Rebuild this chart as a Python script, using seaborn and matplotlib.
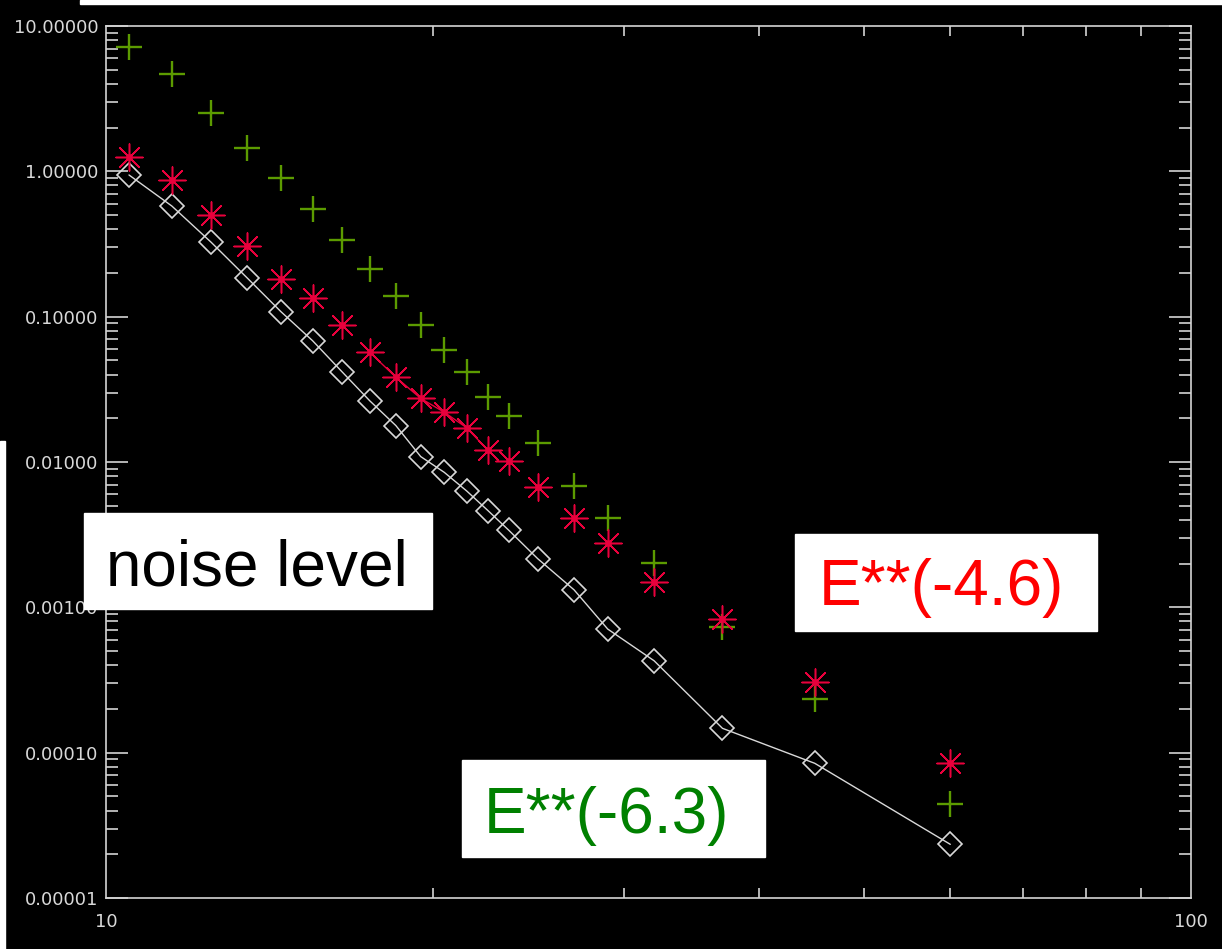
import matplotlib
matplotlib.use("Agg")
import matplotlib.pyplot as plt
import seaborn as sns
from matplotlib.patches import Rectangle
from matplotlib.ticker import FixedLocator, FixedFormatter, NullFormatter

# ---------------- data ----------------
energy = [10.5, 11.5, 12.5, 13.5, 14.5, 15.5, 16.5, 17.5, 18.5, 19.5, 20.5,
          21.5, 22.5, 23.5, 25, 27, 29, 32, 37, 45, 60]
spectrum_green = [7.13, 4.68, 2.53, 1.45, 0.895, 0.548, 0.337, 0.212, 0.139,
                  0.0872, 0.0590, 0.0418, 0.0281, 0.0207, 0.0136, 0.00689,
                  0.00410, 0.00203, 0.000736, 0.000233, 4.43e-5]
spectrum_red = [1.25, 0.872, 0.501, 0.308, 0.182, 0.134, 0.0876, 0.0569,
                0.0383, 0.0274, 0.0220, 0.0172, 0.0120, 0.0102, 0.00670,
                0.00410, 0.00276, 0.00149, 0.000835, 0.000305, 8.45e-5]
red_line_energy = [17.5, 18.5, 19.5, 20.5, 21.5, 22.5]
red_line_values = [0.0569, 0.0383, 0.0274, 0.0220, 0.0172, 0.0120]
noise_level = [0.944, 0.577, 0.325, 0.184, 0.108, 0.0684, 0.0418, 0.0264,
               0.0178, 0.0109, 0.00849, 0.00632, 0.00462, 0.00340, 0.00216,
               0.00132, 0.000709, 0.000429, 0.000147, 8.45e-5, 2.34e-5]

y_ticks = [1e-5, 1e-4, 1e-3, 1e-2, 1e-1, 1, 10]
y_tick_labels = ["0.00001", "0.00010", "0.00100", "0.01000", "0.10000",
                 "1.00000", "10.00000"]
x_ticks = [10, 100]
x_tick_labels = ["10", "100"]
x_minor = [20, 30, 40, 50, 60, 70, 80, 90]

annotations = ["noise level", "E**(-4.6)", "E**(-6.3)"]

# ---------------- style ----------------
sns.set_style("dark")
plt.rcParams["font.family"] = ["DejaVu Sans"]

W, H = 1222, 949
fig = plt.figure(figsize=(W / 100, H / 100), dpi=100, facecolor="black")

def fx(px):
    return px / W

def fy(py):
    return 1 - py / H

ax = fig.add_axes([fx(106), fy(898), fx(1191) - fx(106), fy(26) - fy(898)])
ax.set_facecolor("black")
ax.set_xscale("log")
ax.set_yscale("log")
ax.set_xlim(10, 100)
ax.set_ylim(1e-5, 10)
ax.grid(False)

axis_col = "#d4d4d4"
green = "#5c9b00"
red = "#e8003c"

# noise level: white diamonds joined by a thin line
sns.lineplot(x=energy, y=noise_level, ax=ax, color="#d9d9d9", lw=1.0,
             marker="D", markersize=12.5, markerfacecolor="none",
             markeredgecolor="#d9d9d9", markeredgewidth=1.2,
             estimator=None, sort=False, zorder=3)

# thin red connecting line between some asterisks
sns.lineplot(x=red_line_energy, y=red_line_values, ax=ax, color=red, lw=1.0,
             estimator=None, sort=False, zorder=3)

# green plus
sns.scatterplot(x=energy, y=spectrum_green, ax=ax, marker="+", s=19 ** 2,
                color=green, linewidth=1.7, zorder=4)

# red asterisks with a centre dot
sns.scatterplot(x=energy, y=spectrum_red, ax=ax, marker=(8, 2, 0), s=19.5 ** 2,
                color=red, linewidth=1.1, zorder=5)
sns.scatterplot(x=energy, y=spectrum_red, ax=ax, marker="o", s=24,
                color=red, linewidth=0, zorder=6)

# ---------------- axes, ticks ----------------
for sp in ax.spines.values():
    sp.set_visible(True)
    sp.set_color(axis_col)
    sp.set_linewidth(1.2)

ax.yaxis.set_major_locator(FixedLocator(y_ticks))
ax.yaxis.set_major_formatter(FixedFormatter(y_tick_labels))
ax.xaxis.set_major_locator(FixedLocator(x_ticks))
ax.xaxis.set_major_formatter(FixedFormatter(x_tick_labels))
ax.xaxis.set_minor_locator(FixedLocator(x_minor))
ax.xaxis.set_minor_formatter(NullFormatter())
y_minor = [m * 10.0 ** e for e in range(-5, 1) for m in range(2, 10)]
ax.yaxis.set_minor_locator(FixedLocator(y_minor))
ax.yaxis.set_minor_formatter(NullFormatter())

ax.tick_params(axis="y", which="major", direction="in", length=16, width=1.2,
               color=axis_col, left=True, right=True, labelcolor="#d8d8d8",
               labelsize=13, pad=5.5)
ax.tick_params(axis="y", which="minor", direction="in", length=8.5, width=1.2,
               color=axis_col, left=True, right=True)
ax.tick_params(axis="x", which="major", direction="in", length=0, width=1.2,
               color=axis_col, bottom=True, top=True, labelcolor="#d8d8d8",
               labelsize=13, pad=11)
ax.tick_params(axis="x", which="minor", direction="in", length=7.5, width=1.2,
               color=axis_col, bottom=True, top=True)
ax.set_xlabel("")
ax.set_ylabel("")

# ---------------- white strips at the edges ----------------
fig.patches.append(Rectangle((fx(80), fy(4)), 1 - fx(80), fy(0) - fy(4),
                             transform=fig.transFigure, color="white", zorder=10))
fig.patches.append(Rectangle((0, 0), fx(5), fy(441),
                             transform=fig.transFigure, color="white", zorder=10))

# ---------------- annotation boxes ----------------
boxes = [
    (84, 513, 432, 609, 106, 585, "black"),
    (795, 534, 1097, 631, 819, 605, "#ff0000"),
    (462, 760, 765, 857, 484, 833, "#008000"),
]
for (x0, y0, x1, y1, tx, ty, col), label in zip(boxes, annotations):
    fig.patches.append(Rectangle((fx(x0), fy(y1)), fx(x1) - fx(x0), fy(y0) - fy(y1),
                                 transform=fig.transFigure, color="white",
                                 zorder=20))
    fig.text(fx(tx), fy(ty), label, color=col, fontsize=46,
             family=["Liberation Sans", "DejaVu Sans"], va="baseline",
             ha="left", zorder=21)

fig.savefig("out.png", dpi=100, facecolor="black")
